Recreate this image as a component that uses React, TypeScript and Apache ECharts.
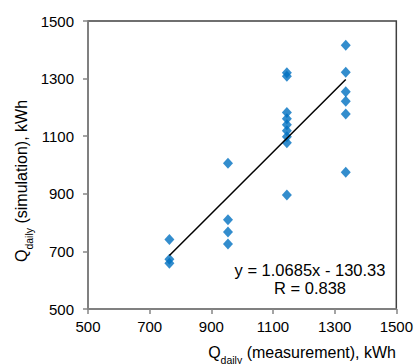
import React, { useRef, useEffect } from "react";
import * as echarts from "echarts";

const measuredX = [
  764, 764, 764,
  954, 954, 954, 954,
  1145, 1145, 1145, 1145, 1145, 1145, 1145, 1145, 1145,
  1336, 1336, 1336, 1336, 1336, 1336,
];
const simulatedY = [
  741, 673, 659,
  1006, 810, 767, 726,
  1320, 1308, 1182, 1161, 1140, 1119, 1098, 1077, 896,
  1416, 1322, 1254, 1221, 1177, 975,
];
const trendSlope = 1.0685;
const trendIntercept = -130.33;
const equationText = "y = 1.0685x - 130.33";
const rText = "R = 0.838";
const axisMin = 500;
const axisMax = 1500;
const axisStep = 200;

const FONT = "Liberation Sans";

export default function App() {
  const ref = useRef<HTMLDivElement>(null);
  useEffect(() => {
    document.body.style.margin = "0";
    if (!ref.current) return;
    const chart = echarts.init(ref.current, null, { renderer: "svg" });
    const points = measuredX.map((x, i) => [x, simulatedY[i]]);
    const xLo = Math.min(...measuredX);
    const xHi = Math.max(...measuredX);
    const trend = [xLo, xHi].map((x) => [x, trendSlope * x + trendIntercept]);
    const axisCommon = {
      type: "value",
      min: axisMin,
      max: axisMax,
      interval: axisStep,
      splitLine: { show: false },
      axisLine: { show: true, lineStyle: { color: "#868686", width: 1.5 } },
      axisTick: { show: true, inside: false, length: 5, lineStyle: { color: "#868686", width: 1.5 } },
    };
    const labelCommon = {
      fontSize: 15,
      color: "#000",
      fontFamily: FONT,
      formatter: (v: number) => String(v),
    };
    const titleRich = {
      a: { fontSize: 16, fontFamily: FONT, color: "#000", lineHeight: 18 },
      b: {
        fontSize: 10.5,
        fontFamily: FONT,
        color: "#000",
        verticalAlign: "bottom",
        lineHeight: 18,
        padding: [0, 0, -4, 0],
      },
    };
    chart.setOption({
      animation: false,
      textStyle: { fontFamily: FONT },
      grid: {
        left: 88,
        top: 21,
        width: 311,
        height: 288,
        show: true,
        borderColor: "#404040",
        borderWidth: 1.5,
        backgroundColor: "transparent",
      },
      xAxis: { ...axisCommon, axisLabel: { ...labelCommon, margin: 10 } },
      yAxis: { ...axisCommon, axisLabel: { ...labelCommon, margin: 14 } },
      series: [
        {
          type: "line",
          data: trend,
          symbol: "none",
          lineStyle: { color: "#000", width: 1.5 },
          z: 3,
        },
        {
          type: "scatter",
          data: points,
          symbol: "diamond",
          symbolSize: [10, 11],
          itemStyle: { color: "#0070C0" },
          z: 2,
        },
      ],
      graphic: [
        {
          type: "text",
          x: 310,
          y: 270,
          style: {
            text: equationText,
            fontSize: 16.5,
            fontFamily: FONT,
            fill: "#000",
            align: "center",
            verticalAlign: "middle",
          },
        },
        {
          type: "text",
          x: 310,
          y: 288,
          style: {
            text: rText,
            fontSize: 16.5,
            fontFamily: FONT,
            fill: "#000",
            align: "center",
            verticalAlign: "middle",
          },
        },
        {
          type: "text",
          x: 396,
          y: 352,
          style: {
            text: "{a|Q}{b|daily}{a| (measurement), kWh}",
            align: "right",
            verticalAlign: "middle",
            fill: "#000",
            rich: titleRich,
          },
        },
        {
          type: "text",
          x: 21,
          y: 181,
          rotation: Math.PI / 2,
          style: {
            text: "{a|Q}{b|daily}{a| (simulation), kWh}",
            align: "center",
            verticalAlign: "middle",
            fill: "#000",
            rich: titleRich,
          },
        },
      ],
    });
    return () => chart.dispose();
  }, []);
  return (
    <div
      ref={ref}
      style={{ position: "absolute", left: 0, top: 0, width: 416, height: 364, background: "#fff" }}
    />
  );
}
